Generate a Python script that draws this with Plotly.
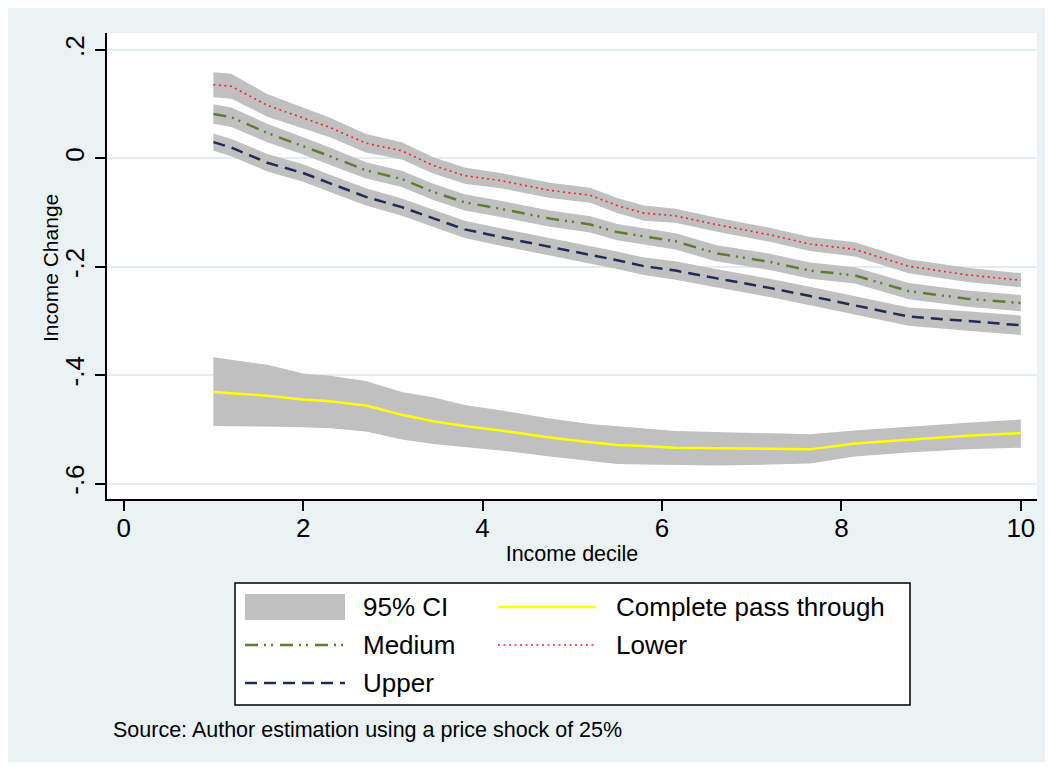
import plotly.graph_objects as go

# ---------------- data ----------------
x_decile = [1.0, 1.2, 1.6, 2.0, 2.3, 2.7, 3.1, 3.45, 3.8, 4.2, 4.75, 5.2,
            5.5, 5.8, 6.15, 6.6, 7.2, 7.65, 8.15, 8.75, 9.4, 10.0]

lower = [0.136, 0.133, 0.098, 0.074, 0.057, 0.028, 0.014, -0.013, -0.032, -0.041, -0.059, -0.068,
         -0.087, -0.101, -0.106, -0.122, -0.141, -0.158, -0.168, -0.199, -0.215, -0.225]
lower_hw = [0.023, 0.023, 0.021, 0.019, 0.018, 0.017, 0.016, 0.015, 0.015, 0.014, 0.014, 0.014,
            0.014, 0.014, 0.013, 0.013, 0.013, 0.013, 0.013, 0.013, 0.013, 0.013]

medium = [0.082, 0.076, 0.047, 0.023, 0.004, -0.022, -0.038, -0.062, -0.081, -0.093, -0.111, -0.122,
          -0.136, -0.144, -0.153, -0.175, -0.191, -0.207, -0.216, -0.245, -0.259, -0.267]
medium_hw = [0.018, 0.018, 0.017, 0.016, 0.016, 0.015, 0.015, 0.015, 0.015, 0.015, 0.015, 0.015,
             0.015, 0.015, 0.015, 0.015, 0.015, 0.015, 0.015, 0.015, 0.015, 0.015]

upper = [0.030, 0.020, -0.008, -0.027, -0.046, -0.071, -0.090, -0.111, -0.131, -0.145, -0.163, -0.177,
         -0.188, -0.199, -0.207, -0.221, -0.239, -0.254, -0.271, -0.292, -0.300, -0.308]
upper_hw = [0.016, 0.016, 0.016, 0.016, 0.016, 0.016, 0.016, 0.016, 0.016, 0.016, 0.016, 0.016,
            0.016, 0.016, 0.017, 0.017, 0.017, 0.017, 0.017, 0.017, 0.018, 0.018]

complete = [-0.431, -0.433, -0.438, -0.445, -0.448, -0.456, -0.473, -0.485, -0.494, -0.502, -0.515, -0.524,
            -0.529, -0.531, -0.534, -0.535, -0.536, -0.537, -0.526, -0.519, -0.512, -0.507]
complete_ci_hi = [-0.367, -0.372, -0.381, -0.397, -0.401, -0.411, -0.431, -0.441, -0.455, -0.465, -0.480, -0.490,
                  -0.494, -0.499, -0.503, -0.505, -0.507, -0.509, -0.502, -0.495, -0.488, -0.482]
complete_ci_lo = [-0.494, -0.494, -0.495, -0.496, -0.498, -0.504, -0.519, -0.527, -0.532, -0.539, -0.550, -0.559,
                  -0.564, -0.565, -0.566, -0.567, -0.565, -0.563, -0.550, -0.543, -0.537, -0.534]

y_tick_vals = [0.2, 0.0, -0.2, -0.4, -0.6]
y_tick_text = [".2", "0", "-.2", "-.4", "-.6"]
x_tick_vals = [0, 2, 4, 6, 8, 10]

legend_labels = ["95% CI", "Complete pass through", "Medium", "Lower", "Upper"]
note_text = "Source: Author estimation using a price shock of 25%"
x_title = "Income decile"
y_title = "Income Change"

# ---------------- styling ----------------
FONT = "Liberation Sans, Arial, sans-serif"
BG = "#EAF2F3"
CI_FILL = "#C0C0C0"
C_YELLOW = "#FFFF00"
C_GREEN = "#5B7F2E"
C_RED = "#FF2020"
C_NAVY = "#1F2D55"
DASH_GREEN = "13px,6px,2px,5px,2px,7px"
DASH_RED = "2px,3.5px"
DASH_NAVY = "12px,7px"

# page geometry (the page puts the figure at an 8px offset)
OFF = 8
PAGE_R, PAGE_B = 1045, 762
L, R, T, B = 107, 1037, 33, 499   # plot area in page pixels
W, H = PAGE_R - OFF, PAGE_B - OFF


def px_x(px):
    return (px - L) / (R - L)


def px_y(py):
    return (B - py) / (B - T)


fig = go.Figure()


def add_band(lo, hi):
    fig.add_trace(go.Scatter(x=x_decile, y=lo, mode="lines", line=dict(width=0, color=CI_FILL),
                             showlegend=False, hoverinfo="skip"))
    fig.add_trace(go.Scatter(x=x_decile, y=hi, mode="lines", line=dict(width=0, color=CI_FILL),
                             fill="tonexty", fillcolor=CI_FILL, showlegend=False, hoverinfo="skip"))


add_band(complete_ci_lo, complete_ci_hi)
add_band([v - h for v, h in zip(lower, lower_hw)], [v + h for v, h in zip(lower, lower_hw)])
add_band([v - h for v, h in zip(medium, medium_hw)], [v + h for v, h in zip(medium, medium_hw)])
add_band([v - h for v, h in zip(upper, upper_hw)], [v + h for v, h in zip(upper, upper_hw)])

fig.add_trace(go.Scatter(x=x_decile, y=complete, mode="lines", name=legend_labels[1],
                         line=dict(color=C_YELLOW, width=2.5), showlegend=False))
fig.add_trace(go.Scatter(x=x_decile, y=medium, mode="lines", name=legend_labels[2],
                         line=dict(color=C_GREEN, width=2.5, dash=DASH_GREEN), showlegend=False))
fig.add_trace(go.Scatter(x=x_decile, y=lower, mode="lines", name=legend_labels[3],
                         line=dict(color=C_RED, width=1.6, dash=DASH_RED), showlegend=False))
fig.add_trace(go.Scatter(x=x_decile, y=upper, mode="lines", name=legend_labels[4],
                         line=dict(color=C_NAVY, width=2.5, dash=DASH_NAVY), showlegend=False))

shapes = [
    # legend box
    dict(type="rect", xref="paper", yref="paper", layer="below",
         x0=px_x(235), x1=px_x(910), y0=px_y(705), y1=px_y(583),
         fillcolor="white", line=dict(color="black", width=1.5)),
    # legend swatches
    dict(type="rect", xref="paper", yref="paper", layer="above",
         x0=px_x(245), x1=px_x(345), y0=px_y(620), y1=px_y(594),
         fillcolor=CI_FILL, line=dict(width=0)),
    dict(type="line", xref="paper", yref="paper", layer="above",
         x0=px_x(498), x1=px_x(596), y0=px_y(607), y1=px_y(607),
         line=dict(color=C_YELLOW, width=2.5)),
    dict(type="line", xref="paper", yref="paper", layer="above",
         x0=px_x(245), x1=px_x(345), y0=px_y(645), y1=px_y(645),
         line=dict(color=C_GREEN, width=2.5, dash=DASH_GREEN)),
    dict(type="line", xref="paper", yref="paper", layer="above",
         x0=px_x(498), x1=px_x(596), y0=px_y(645), y1=px_y(645),
         line=dict(color=C_RED, width=1.6, dash=DASH_RED)),
    dict(type="line", xref="paper", yref="paper", layer="above",
         x0=px_x(245), x1=px_x(345), y0=px_y(683), y1=px_y(683),
         line=dict(color=C_NAVY, width=2.5, dash=DASH_NAVY)),
]

legend_pos = [(361, 607), (614, 607), (361, 645), (614, 645), (361, 683)]
annotations = []
for label, (lx, ly) in zip(legend_labels, legend_pos):
    annotations.append(dict(text=label, xref="paper", yref="paper", x=px_x(lx), y=px_y(ly),
                            xanchor="left", yanchor="middle", showarrow=False,
                            font=dict(family=FONT, size=26, color="black")))
annotations.append(dict(text=note_text, xref="paper", yref="paper", x=px_x(111), y=px_y(730),
                        xanchor="left", yanchor="middle", showarrow=False,
                        font=dict(family=FONT, size=21.5, color="black")))
# y axis title
annotations.append(dict(text=y_title, xref="paper", yref="paper", x=px_x(50), y=px_y(268),
                        xanchor="center", yanchor="middle", textangle=-90, showarrow=False,
                        font=dict(family=FONT, size=21, color="black")))

fig.update_layout(
    width=W, height=H,
    margin=dict(l=L - OFF, r=PAGE_R - R, t=T - OFF, b=PAGE_B - B, pad=0),
    paper_bgcolor=BG, plot_bgcolor="white",
    font=dict(family=FONT, color="black"),
    showlegend=False,
    shapes=shapes,
    annotations=annotations,
    xaxis=dict(range=[-0.186, 10.18], tickvals=x_tick_vals, showgrid=False, zeroline=False,
               showline=True, linecolor="black", linewidth=1.5,
               ticks="outside", ticklen=10, tickwidth=1.5, tickcolor="black",
               tickfont=dict(size=26, family=FONT, color="black"), ticklabelstandoff=-5,
               title=dict(text=x_title, font=dict(size=21.5, family=FONT, color="black"),
                          standoff=4)),
    yaxis=dict(range=[-0.6286, 0.2314], tickvals=y_tick_vals, ticktext=y_tick_text,
               showgrid=True, gridcolor="#E3EDF0", gridwidth=2, zeroline=False,
               showline=True, linecolor="black", linewidth=1.5,
               ticks="outside", ticklen=10, tickwidth=1.5, tickcolor="black", tickangle=-90,
               tickfont=dict(size=26, family=FONT, color="black"), ticklabelstandoff=1),
)

fig.write_html("out.html")
